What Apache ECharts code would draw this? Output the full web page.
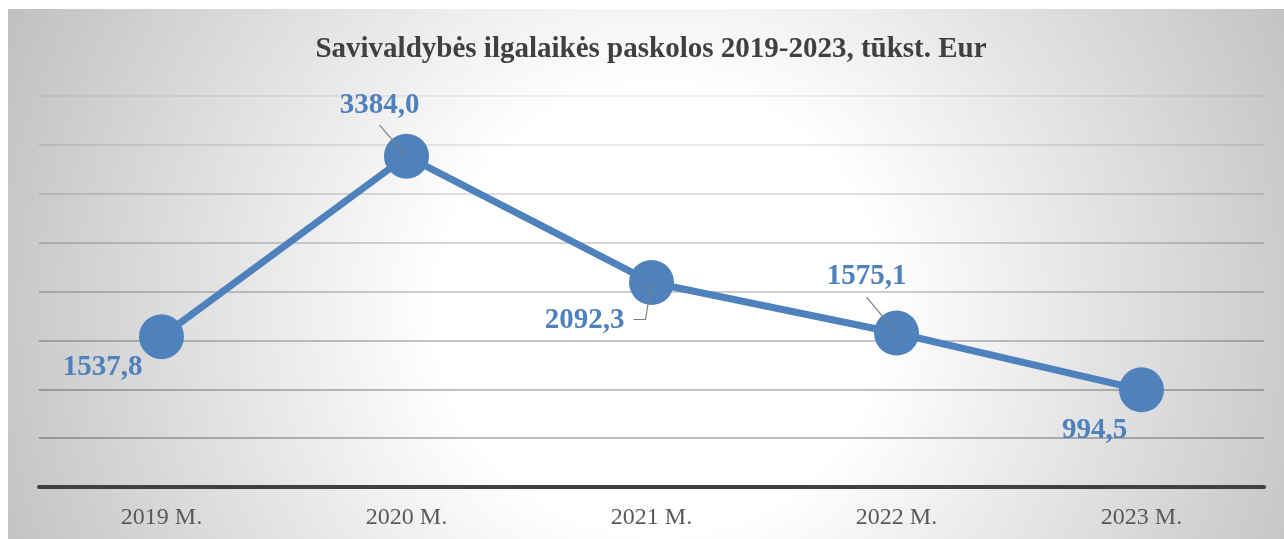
<!DOCTYPE html>
<html><head><meta charset="utf-8">
<script src="https://cdn.jsdelivr.net/npm/echarts@6/dist/echarts.min.js"></script>
<style>html,body{margin:0;padding:0;background:#fff;}#c{width:1284px;height:539px;}</style>
</head><body><div id="c"></div>
<script>
const chartTitle = 'Savivaldybės ilgalaikės paskolos 2019-2023, tūkst. Eur';
const categories = ['2019 M.', '2020 M.', '2021 M.', '2022 M.', '2023 M.'];
const values = [1537.8, 3384.0, 2092.3, 1575.1, 994.5];

// styling: label offsets and leader line shapes relative to the data point (px)
const labelOffsets = [[-59, 31], [-27, -51], [-67, 38], [-30, -57], [-47, 41]];
const leaderShapes = [null, [[0, 0], [-27, -31]], [[0, 0], [-6, 37], [-18, 37]], [[0, 0], [-30, -36]], null];

const FONT = '"Liberation Serif", "Times New Roman", serif';
const BLUE = '#4f81bd';
const fmt = v => v.toFixed(1).replace('.', ',');

const chart = echarts.init(document.getElementById('c'), null, { renderer: 'canvas' });

const bgRect = {
  id: 'bg', type: 'rect', z: -100, silent: true,
  shape: { x: 8, y: 9, width: 1276, height: 530 },
  style: {
    fill: {
      type: 'radial', x: 660, y: 310, r: 740, global: true,
      colorStops: [
        { offset: 0, color: '#ffffff' },
        { offset: 0.3, color: '#ffffff' },
        { offset: 1, color: '#bdbdbd' }
      ]
    }
  }
};

const option = {
  animation: false,
  title: {
    text: chartTitle,
    left: 651, top: 35, textAlign: 'center', padding: 0,
    textStyle: { fontFamily: FONT, fontWeight: 'bold', fontSize: 29, color: '#404040' }
  },
  grid: { left: 39, right: 20, top: 96, bottom: 52, containLabel: false },
  xAxis: {
    type: 'category', data: categories, boundaryGap: true,
    axisTick: { show: false },
    axisLine: { lineStyle: { color: '#404040', width: 4 } },
    axisLabel: { fontFamily: FONT, fontSize: 24, color: '#595959', margin: 19 },
    splitLine: { show: false }
  },
  yAxis: {
    type: 'value', min: 0, max: 4000, interval: 500,
    axisLabel: { show: false }, axisTick: { show: false }, axisLine: { show: false },
    splitLine: {
      show: true,
      lineStyle: {
        width: 1.5,
        color: ['rgba(0,0,0,0)', 'rgba(0,0,0,0.35)', 'rgba(0,0,0,0.33)', 'rgba(0,0,0,0.30)',
                'rgba(0,0,0,0.26)', 'rgba(0,0,0,0.22)', 'rgba(0,0,0,0.17)', 'rgba(0,0,0,0.12)', 'rgba(0,0,0,0.07)']
      }
    }
  },
  graphic: { elements: [bgRect] },
  series: [{
    type: 'line',
    data: values.map((v, i) => ({
      value: v,
      label: { offset: labelOffsets[i] }
    })),
    symbol: 'circle', symbolSize: 45,
    itemStyle: { color: BLUE },
    lineStyle: { color: BLUE, width: 7 },
    label: {
      show: true, position: 'inside', align: 'center', verticalAlign: 'middle',
      fontFamily: FONT, fontWeight: 'bold', fontSize: 29, color: BLUE,
      formatter: p => fmt(p.value)
    },
    z: 5
  }]
};
chart.setOption(option);

// leader lines anchored to data points through the chart's own scales
const leaders = [];
values.forEach((v, i) => {
  const shape = leaderShapes[i];
  if (!shape) return;
  const p = chart.convertToPixel({ seriesIndex: 0 }, [i, v]);
  leaders.push({
    id: 'leader' + i, type: 'polyline', z: 100, silent: true,
    shape: { points: shape.map(d => [p[0] + d[0], p[1] + d[1]]) },
    style: { stroke: '#7f7f7f', lineWidth: 1.2, fill: null }
  });
});
chart.setOption({ graphic: { elements: [bgRect].concat(leaders) } });
</script>
</body></html>
